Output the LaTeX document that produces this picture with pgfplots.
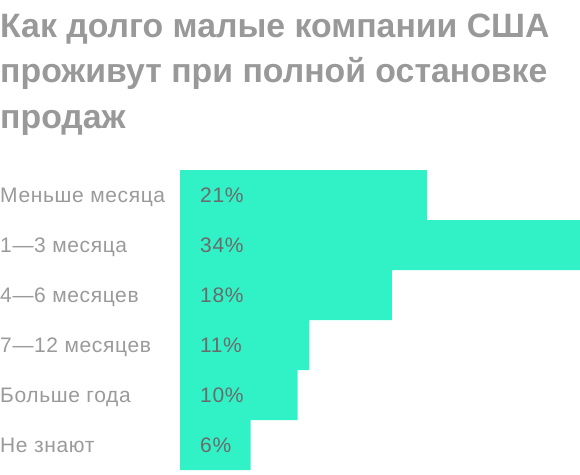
\documentclass[border=0pt]{standalone}
\usepackage{pgfplots}
\pgfplotsset{compat=1.18}
\usepackage{fontspec}
\setmainfont{Liberation Sans}
\newfontfamily\labfont[LetterSpace=3]{Liberation Sans}
\definecolor{barc}{HTML}{31F2C6}
\definecolor{titlec}{HTML}{999999}
\definecolor{labc}{HTML}{9A9A9A}
\definecolor{valc}{HTML}{6B6B6B}
\begin{document}
\begin{tikzpicture}[x=1pt,y=1pt]
\useasboundingbox (0,0) rectangle (580,-474);
\node[anchor=base west,inner sep=0,text=titlec,font=\fontsize{33.8}{40}\selectfont\bfseries] at (0,-37) {Как долго малые компании США};
\node[anchor=base west,inner sep=0,text=titlec,font=\fontsize{33.8}{40}\selectfont\bfseries] at (0,-82.5) {проживут при полной остановке};
\node[anchor=base west,inner sep=0,text=titlec,font=\fontsize{33.8}{40}\selectfont\bfseries] at (0,-128) {продаж};
\begin{axis}[
  at={(180pt,-470pt)}, anchor=south west,
  width=400pt, height=300pt, scale only axis,
  xmin=0, xmax=34, ymin=-0.5, ymax=5.5, y dir=reverse,
  axis lines=none, clip=false,
  xbar, bar width=50pt,
]
\addplot[fill=barc, draw=none] coordinates {(21,0) (34,1) (18,2) (11,3) (10,4) (6,5)};
\foreach \i/\lab/\v in {0/Меньше месяца/21, 1/1—3 месяца/34, 2/4—6 месяцев/18, 3/7—12 месяцев/11, 4/Больше года/10, 5/Не знают/6} {
  \edef\tmp{\noexpand\node[anchor=base west,inner sep=0,text=labc,font=\noexpand\labfont\noexpand\fontsize{21}{24}\noexpand\selectfont] at ([xshift=-180pt,yshift=-7.5pt]axis cs:0,\i) {\lab};
  \noexpand\node[anchor=base west,inner sep=0,text=valc,font=\noexpand\labfont\noexpand\fontsize{21}{24}\noexpand\selectfont] at ([xshift=20pt,yshift=-7.5pt]axis cs:0,\i) {\v\noexpand\%};}
  \tmp
}
\end{axis}
\end{tikzpicture}
\end{document}
